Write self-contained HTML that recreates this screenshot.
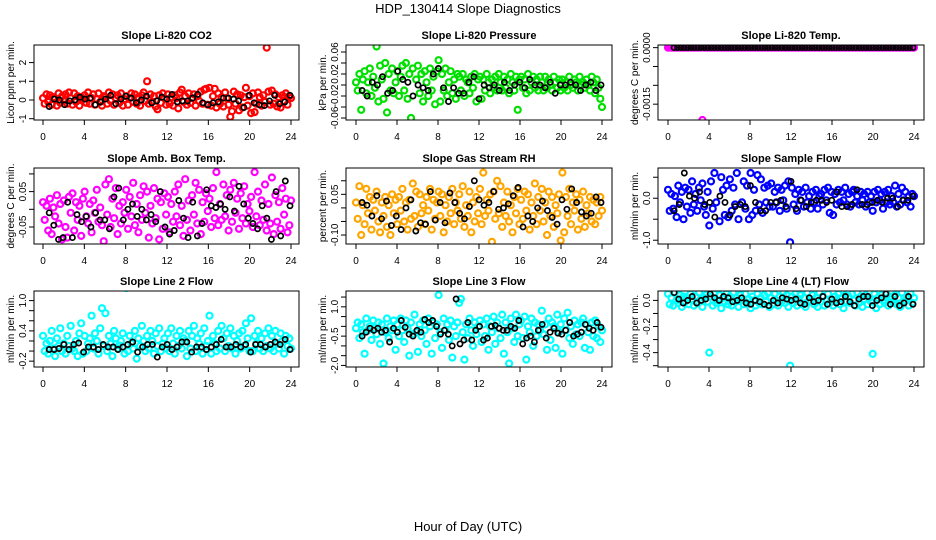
<!DOCTYPE html>
<html><head><meta charset="utf-8">
<style>
html,body{margin:0;padding:0;background:#fff;}
svg{display:block;font-family:"Liberation Sans",Arial,sans-serif;}
</style></head>
<body>
<svg id="chart" width="936" height="540" viewBox="0 0 936 540">
<rect x="0" y="0" width="936" height="540" fill="#fff"/>
<text x="468" y="13" text-anchor="middle" font-size="13">HDP_130414  Slope Diagnostics</text>
<text x="468" y="531" text-anchor="middle" font-size="13">Hour of Day (UTC)</text>
</svg>
<script>
// ---- data (values in scaled units; see scale per panel) ----
const xTicks = [0,4,8,12,16,20,24];
const co2C = [10,-20,30,-10,25,-25,15,5,-30,35,-15,20,-5,30,-20,40,10,-25,35,-10,20,-30,15,5,25,-15,40,-20,10,30,-25,5,35,-10,-30,20,15,-20,40,-5,30,-25,10,25,-15,35,-30,5,20,-25,10,35,-10,30,-20,15,-30,25,40,-5,100,-20,30,-10,20,-35,-50,25,-15,35,10,-25,30,-20,15,-30,25,10,-45,40,55,-10,20,-25,35,-15,10,30,-30,20,-5,45,-20,55,60,-25,65,-30,20,60,-40,35,-20,15,-35,40,10,-25,-90,-60,45,-20,30,-55,25,-40,15,65,-30,20,-70,35,-65,-20,40,15,-30,25,-10,280,45,-25,50,-20,30,-35,15,-40,25,-10,35,-25,20,10];
const co2K = [-35,5,0,-25,-5,0,15,5,10,-25,-10,5,25,-20,5,20,10,-15,0,20,-15,-5,15,5,30,-10,-5,-5,10,30,-15,-25,-15,-10,10,10,5,-5,-40,25,-15,-25,-30,-5,25,-20,-10,25];
const presC = [5,-10,20,-45,10,25,-15,5,30,-20,15,-5,70,-30,35,10,-25,40,-50,20,-10,30,-15,5,25,-20,15,35,-10,40,-25,20,-60,30,-70,10,35,-15,20,-30,25,5,-20,30,-10,15,-35,25,45,-30,20,-10,30,-20,5,25,-15,10,-25,20,15,-10,20,-20,10,5,-15,15,-5,20,-30,10,15,-25,10,-10,20,5,-15,10,-5,15,-10,20,5,-10,15,-5,10,-15,20,5,-10,15,-45,10,15,-5,10,-15,20,-10,5,15,-5,10,-10,15,5,-10,15,-5,10,0,-10,15,5,-5,10,-10,10,-5,5,-10,15,0,-5,10,5,-10,15,0,5,-5,10,0,-10,15,5,-15,10,-5,-25,-40];
const presK = [-10,-20,5,0,15,-15,-10,25,10,5,-20,0,-5,-10,20,30,-5,-30,-5,-15,-15,5,15,-25,0,-5,0,-10,5,-10,0,5,-5,10,0,0,-5,5,-15,0,0,5,0,-10,0,5,-10,0];
const tempC = [0,0,0,0,0,0,0,0,0,0,0,0,0,0,0,0,0,0,0,0,-192,0,0,0,0,0,0,0,0,0,0,0,0,0,0,0,0,0,0,0,0,0,0,0,0,0,0,0,0,0,0,0,0,0,0,0,0,0,0,0,0,0,0,0,0,0,0,0,0,0,0,0,0,0,0,0,0,0,0,0,0,0,0,0,0,0,0,0,0,0,0,0,0,0,0,0,0,0,0,0,0,0,0,0,0,0,0,0,0,0,0,0,0,0,0,0,0,0,0,0,0,0,0,0,0,0,0,0,0,0,0,0,0,0,0,0,0,0,0,0,0,0,0,0];
const tempK = [0,0,0,0,0,0,0,0,0,0,0,0,0,0,0,0,0,0,0,0,0,0,0,0,0,0,0,0,0,0,0,0,0,0,0,0,0,0,0,0,0,0,0,0,0,0,0,0,0,0,0,0,0,0,0,0,0,0,0,0,0,0,0,0,0,0,0,0,0,0,0,0];
const ambC = [20,-30,10,-60,30,-70,5,-20,40,-40,15,-85,25,-50,-80,35,-10,45,-60,20,-30,10,-75,30,50,-20,-40,15,-65,25,-10,55,-35,5,-45,-90,70,-15,85,-50,30,-25,60,-70,10,-40,20,-10,55,-55,35,-20,75,-45,15,-65,40,-30,65,-10,50,-80,10,-40,60,-25,30,-85,20,-55,45,-15,35,-65,15,-35,50,-20,70,-45,10,-75,85,-30,25,-60,40,-15,75,-40,55,-70,20,-35,45,-5,30,-50,60,-25,105,-45,15,-30,70,-20,40,-60,55,-35,75,-10,30,-55,45,-25,65,-40,15,-5,35,-50,105,-20,50,-45,25,-30,70,-60,15,-40,90,-70,40,-35,20,-55,60,-15,30,-65,-45,25];
const ambK = [-10,-45,-85,-80,20,-80,-15,-35,-20,-50,-10,-30,-30,-55,35,60,-30,0,15,-20,0,-30,-15,-35,50,-50,-70,-60,25,-25,-80,20,-75,-40,55,10,5,15,0,35,-5,65,15,-25,-40,-55,10,-25,-85,50,-75,80,10];
const rhC = [20,-40,80,-100,10,-60,70,-20,40,-80,30,-10,60,-50,-90,20,-30,40,-70,10,-100,50,-20,30,-60,40,-10,70,-50,20,-80,30,-40,90,-30,60,-70,50,-20,10,-60,40,-10,70,-80,30,-40,20,60,-30,50,-90,10,-50,40,-20,70,-60,20,-10,50,-40,80,-70,10,-30,60,-90,20,-50,40,-20,70,-60,130,-30,30,-10,50,-125,60,-40,100,-20,80,-70,20,-30,60,-50,10,-90,40,-20,70,-60,30,-40,60,-10,50,-80,20,-30,90,-60,40,-10,70,-50,20,-100,60,-30,40,-70,10,-20,50,-120,130,-90,40,-30,70,-60,20,-10,50,-80,30,-40,60,-70,10,-20,40,-50,30,-60,20,-30,40,-10];
const rhK = [20,10,-30,45,-40,25,-65,-30,-80,0,30,-85,-55,-60,60,-45,20,-55,55,20,-20,-40,5,100,30,10,20,60,-5,0,15,45,75,-70,-30,-50,0,25,-10,-35,-60,30,-5,70,20,-15,-30,-20,40,20];
const sfC = [20,-30,10,-25,5,-45,30,-10,15,-50,25,-20,20,-35,40,-15,10,-30,25,-5,35,-20,-40,15,-65,40,-25,60,-10,90,-55,50,20,-40,30,-45,45,-30,25,-15,60,-50,80,-10,40,-25,30,-50,60,-40,20,-30,55,-15,45,-35,25,-10,30,-20,35,-20,15,-10,25,-30,20,-5,30,-25,40,-105,25,-15,10,-30,20,-5,15,-20,25,-10,5,-25,15,-10,20,-25,5,10,-15,20,-5,25,-35,15,-40,10,-15,20,-10,15,-5,25,-15,10,-20,15,20,-10,5,-15,15,-5,10,-20,15,-10,5,-30,15,-10,20,-5,10,-25,15,-10,20,-15,5,-10,30,-20,10,-15,25,-5,15,-10,5,-20,10,5];
const sfK = [-30,-15,60,5,0,15,-15,-10,-45,5,-10,-40,-20,-15,-20,30,-10,-30,-30,-10,-10,-5,-20,40,-25,-5,-20,-10,-5,-5,-10,-5,15,-20,-20,-15,20,-15,-15,-10,-5,-10,0,0,-20,-5,-5,5];
const l2C = [30,0,15,-5,20,40,5,-10,25,10,45,0,15,-5,30,10,50,5,0,20,-10,35,55,-5,30,0,15,25,70,5,35,20,-5,45,85,10,75,0,30,15,-10,40,25,5,11,20,35,-5,125,0,30,15,5,40,-15,25,10,50,20,0,30,5,40,20,-5,35,10,45,0,15,25,5,35,0,45,15,-5,30,10,40,5,25,20,-10,40,5,30,50,0,25,15,35,-5,45,10,20,70,-5,30,15,0,40,5,50,25,0,35,10,45,5,30,-5,20,35,5,40,10,55,25,0,65,0,30,15,40,5,25,0,35,10,45,5,30,0,40,15,5,35,20,-5,30,10,25,5];
const l2K = [3,3,5,13,3,13,16,-2,8,8,3,13,8,8,3,8,13,18,-2,8,13,13,-12,8,13,3,8,18,18,-2,8,8,3,8,13,23,8,8,13,8,13,-2,13,13,8,13,18,13,23,3];
const l3C = [-10,20,-60,10,-30,-140,40,-20,0,-70,30,-10,-40,20,-90,10,-190,-30,40,-60,0,-20,30,-120,10,-50,40,-20,-80,30,-10,-150,20,-40,60,-30,-130,10,-50,30,-20,-90,40,0,-140,20,-60,10,160,-30,-110,40,-20,10,-70,30,-160,0,-50,20,120,140,-30,-170,10,-60,40,-20,-100,20,-40,0,30,-80,10,-50,40,-120,0,-30,50,-90,20,-10,-60,60,-140,20,-30,-190,40,-10,-80,60,-50,10,30,-60,50,-170,0,-30,40,-100,20,-50,10,-20,80,-40,10,-120,40,-70,20,0,-110,60,-30,10,-140,40,-20,70,-60,0,-90,30,-40,10,-50,20,40,-110,10,-30,-120,20,-50,30,-60,0,-80,-20];
const l3K = [-50,-30,-10,-20,-10,-30,-20,-80,-10,-30,30,-5,-40,-50,-20,-30,35,20,30,0,-40,-20,-40,-100,140,-90,-70,20,-70,-20,0,-70,-60,0,5,-10,-20,-20,0,-10,30,-90,-60,-50,-80,-20,10,-60,-30,-10,-35,-40,-20,20,-50,-40,-30,10,-10,-20,20,-5];
const l4C = [5,-3,2,-4,6,0,-2,4,-5,3,-1,2,-3,5,1,-4,3,-2,6,0,-5,2,4,-1,-40,3,-4,5,-2,0,4,-6,2,-1,5,-3,3,-4,6,-1,2,-5,4,0,-3,5,-2,1,-6,3,0,-4,5,-2,2,-3,4,-1,6,-5,2,-3,5,0,-4,3,-1,6,-2,4,-5,-50,3,-2,5,-4,1,4,-3,2,-5,6,0,-1,4,-3,2,-5,6,-1,3,-4,0,5,-2,1,-4,3,0,5,-3,2,-6,4,-1,3,-2,5,0,-4,6,-2,3,-5,1,4,-3,2,-1,-41,5,-6,2,-3,4,0,-2,5,-4,3,1,-2,4,-3,2,-5,6,-1,0,3,-4,5,-2,2];
const l4K = [6,1,-2,0,3,-2,0,1,5,2,0,3,2,-1,0,2,-2,-3,0,-1,-3,-4,0,-2,2,1,0,1,-2,-3,2,-1,0,3,-3,1,-2,-1,3,-1,-4,1,3,3,-4,0,2,5,-3,3,-4,-2,3,-3];
const titles = ["Slope Li-820 CO2","Slope Li-820 Pressure","Slope Li-820 Temp.","Slope Amb. Box Temp.","Slope Gas Stream RH","Slope Sample Flow","Slope Line 2 Flow","Slope Line 3 Flow","Slope Line 4 (LT) Flow"];
const yTitles = ["Licor ppm per min.","kPa per min.","degrees C per min.","degrees C per min.","percent per min.","ml/min per min.","ml/min per min.","ml/min per min.","ml/min per min."];
const yTickVals = [[-1,0,1,2],[-0.06,-0.04,-0.02,0,0.02,0.04,0.06],[-0.0015,-0.001,-0.0005,0],[-0.05,0,0.05,0.1],[-0.1,-0.05,0,0.05,0.1],[-1,-0.5,0,0.5],[-0.2,0,0.2,0.4,0.6,0.8,1.0],[-2,-1.5,-1,-0.5,0,0.5,1,1.5],[-0.5,-0.4,-0.3,-0.2,-0.1,0]];
const yTickLabels = [["-1","0","1","2"],["-0.06","","-0.02","","0.02","","0.06"],["-0.0015","","","0.0000"],["-0.05","","0.05",""],["-0.10","","","0.05",""],["-1.0","","0.0",""],["-0.2","","","0.4","","","1.0"],["-2.0","","","-0.5","","","1.0",""],["","-0.4","","-0.2","","0.0"]];

// ---- layout (not data) ----
const cols=[{l:34,r:299,x0:43,x24:291,yl:10},{l:346,r:612,x0:356,x24:602,yl:322},{l:658,r:924,x0:668,x24:914,yl:634}];
const rows=[{t:45,b:120},{t:168,b:244},{t:291,b:367}];
const panels=[
 {c:0,r:0,lo:-1.07,hi:2.94,sc:0.01,col:"#ff0000",C:co2C,K:co2K},
 {c:1,r:0,lo:-0.0636,hi:0.0727,sc:0.001,col:"#00e000",C:presC,K:presK},
 {c:2,r:0,lo:-0.00192,hi:0.00007,sc:0.00001,col:"#ff00ff",C:tempC,K:tempK},
 {c:0,r:1,lo:-0.098,hi:0.1167,sc:0.001,col:"#ff00ff",C:ambC,K:ambK},
 {c:1,r:1,lo:-0.133,hi:0.147,sc:0.001,col:"#ffa500",C:rhC,K:rhK},
 {c:2,r:1,lo:-1.09,hi:0.72,sc:0.01,col:"#0000ff",C:sfC,K:sfK},
 {c:0,r:2,lo:-0.316,hi:1.19,sc:0.01,col:"#00ffff",C:l2C,K:l2K},
 {c:1,r:2,lo:-2.08,hi:1.81,sc:0.01,col:"#00ffff",C:l3C,K:l3K},
 {c:2,r:2,lo:-0.51,hi:0.072,sc:0.01,col:"#00ffff",C:l4C,K:l4K}
];
const NS="http://www.w3.org/2000/svg";
const svg=document.getElementById('chart');
function mk(tag,parent){const e=document.createElementNS(NS,tag);parent.appendChild(e);return e;}
panels.forEach((p,i)=>{
 const c=cols[p.c], r=rows[p.r];
 const xs=h=>c.x0+(c.x24-c.x0)*h/24;
 const ys=v=>r.b-(v-p.lo)/(p.hi-p.lo)*(r.b-r.t);
 const g=mk('g',svg);
 
 
 const cp=mk('clipPath',g); cp.setAttribute('id','cp'+i);
 const cr=mk('rect',cp); cr.setAttribute('x',c.l);cr.setAttribute('y',r.t);cr.setAttribute('width',c.r-c.l);cr.setAttribute('height',r.b-r.t);
 const t=mk('text',g); t.textContent=titles[i];
 t.setAttribute('x',(c.l+c.r)/2);t.setAttribute('y',r.t-6);t.setAttribute('text-anchor','middle');t.setAttribute('font-size','11');t.setAttribute('font-weight','bold');
 
 
 const yt=mk('text',g); yt.textContent=yTitles[i];
 const ym=(r.t+r.b)/2;
 yt.setAttribute('transform','translate('+(c.yl+4)+','+ym+') rotate(-90)');yt.setAttribute('text-anchor','middle');yt.setAttribute('font-size','10');
 
 
 const pts=mk('g',g); pts.setAttribute('clip-path','url(#cp'+i+')');
 
 
 p.C.forEach((v,k)=>{
  const h=k*24/(p.C.length-1);
  const e=mk('circle',pts);
  e.setAttribute('cx',xs(h).toFixed(1));e.setAttribute('cy',ys(v*p.sc).toFixed(1));e.setAttribute('r','3');
  e.setAttribute('fill','none');e.setAttribute('stroke',p.col);e.setAttribute('stroke-width','2.2');
  
  
 });
 const pk=mk('g',g); pk.setAttribute('clip-path','url(#cp'+i+')');
 
 
 p.K.forEach((v,k)=>{
  const h=0.6+k*(23.3)/(p.K.length-1);
  const e=mk('circle',pk);
  e.setAttribute('cx',xs(h).toFixed(1));e.setAttribute('cy',ys(v*p.sc).toFixed(1));e.setAttribute('r','2.6');
  e.setAttribute('fill','none');e.setAttribute('stroke','#000');e.setAttribute('stroke-width','1.7');
  
  
 });
 const box=mk('rect',g);
 box.setAttribute('x',c.l);box.setAttribute('y',r.t);box.setAttribute('width',c.r-c.l);box.setAttribute('height',r.b-r.t);
 box.setAttribute('fill','none');box.setAttribute('stroke','#000');box.setAttribute('stroke-width','1');
 
 
 xTicks.forEach(h=>{
  const x=xs(h);
  const l=mk('line',g);
  l.setAttribute('x1',x);l.setAttribute('x2',x);l.setAttribute('y1',r.b);l.setAttribute('y2',r.b+5);l.setAttribute('stroke','#000');
  
  
  const tx=mk('text',g); tx.textContent=String(h);
  tx.setAttribute('x',x);tx.setAttribute('y',r.b+20);tx.setAttribute('text-anchor','middle');tx.setAttribute('font-size','10');
  
  
 });
 yTickVals[i].forEach((v,k)=>{
  const y=ys(v);
  const l=mk('line',g);
  l.setAttribute('x1',c.l-5);l.setAttribute('x2',c.l);l.setAttribute('y1',y);l.setAttribute('y2',y);l.setAttribute('stroke','#000');
  
  
  const lab=yTickLabels[i][k];
  if(lab){
   const ty=mk('text',g); ty.textContent=lab;
   ty.setAttribute('transform','translate('+(c.l-8)+','+y.toFixed(1)+') rotate(-90)');ty.setAttribute('text-anchor','middle');ty.setAttribute('font-size','10');
   
   
  }
 });
});
</script>
</body></html>
